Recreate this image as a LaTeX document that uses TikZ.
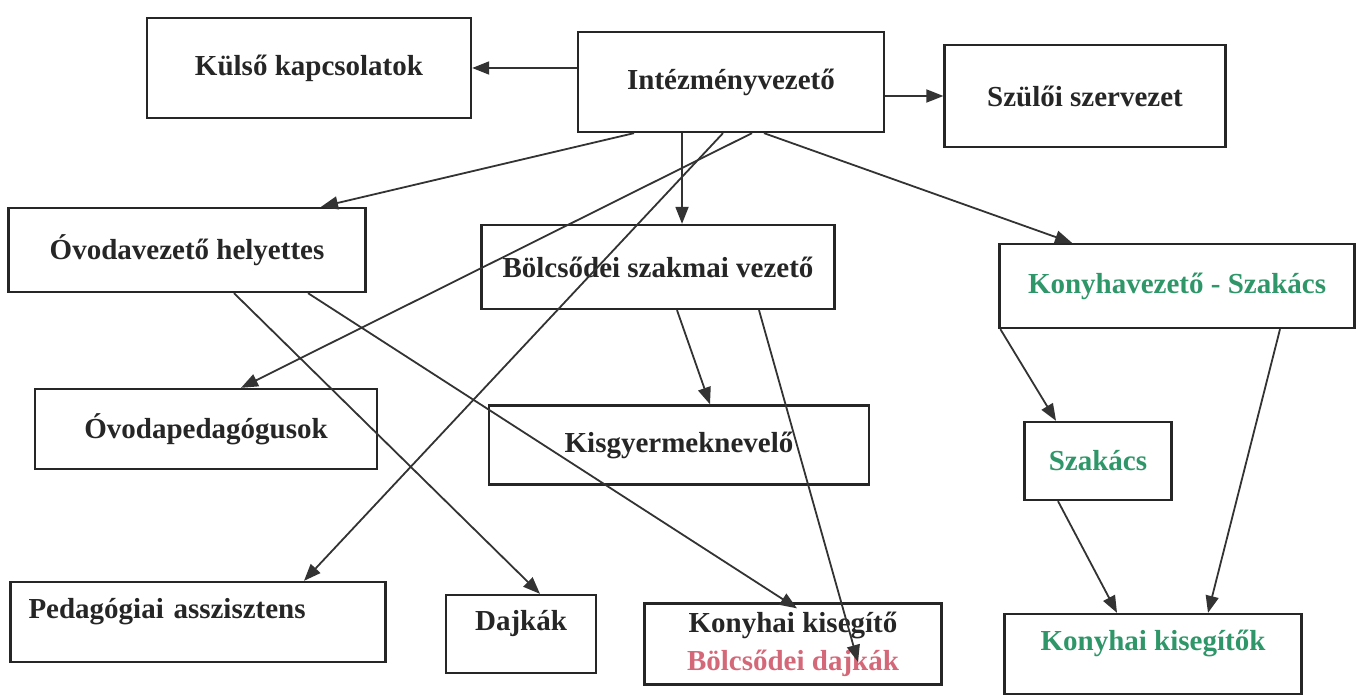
\documentclass[tikz,border=0pt]{standalone}
\usepackage{fontspec}
\setmainfont{Liberation Serif}
\usetikzlibrary{arrows.meta}
\definecolor{kitchen}{RGB}{46,150,104}
\definecolor{nursery}{RGB}{212,104,120}
\begin{document}
\begin{tikzpicture}[x=1pt,y=-1pt,
box/.style={draw=black!85,line width=2.3pt,text=black!85,font=\bfseries\fontsize{29}{36}\selectfont,inner sep=0pt},
upper/.style={text height=20pt,text depth=28pt},
arr/.style={draw=black!80,line width=1.8pt,-{Triangle[length=17pt,width=13pt]}},
green/.style={text=kitchen}]
\useasboundingbox (0,0) rectangle (1359,698);
% first row
\node[box,minimum width=324pt,minimum height=100pt] (kulso) at (309,68) {Külső kapcsolatok};
\node[box,minimum width=306pt,minimum height=100pt] (intez) at (731,82) {Intézményvezető};
\node[box,minimum width=281pt,minimum height=102pt] (szuloi) at (1085,96) {Szülői szervezet};
% second row
\node[box,minimum width=357pt,minimum height=84pt] (helyettes) at (187,250) {Óvodavezető helyettes};
\node[box,minimum width=353pt,minimum height=84pt] (bolcsvez) at (658,267) {Bölcsődei szakmai vezető};
\node[box,green,minimum width=355pt,minimum height=84pt] (konyhavez) at (1177,286) {Konyhavezető - Szakács};
% third row
\node[box,minimum width=342pt,minimum height=80pt] (ovodaped) at (206,429) {Óvodapedagógusok};
\node[box,minimum width=380pt,minimum height=79pt] (kisgyerm) at (679,445) {Kisgyermeknevelő};
\node[box,green,minimum width=147pt,minimum height=78pt] (szakacs) at (1098,461) {Szakács};
% bottom row
\node[box,upper,minimum width=375pt,minimum height=80pt,text width=339pt,align=left] (pedassz) at (198,622) {Pedagógiai asszisztens};
\node[box,upper,minimum width=150pt,minimum height=78pt] (dajkak) at (521,634) {Dajkák};
\node[box,minimum width=297pt,minimum height=81pt,align=center] (kisegito) at (793,644) {Konyhai kisegítő\\[2pt]\textcolor{nursery}{Bölcsődei dajkák}};
\node[box,green,upper,minimum width=297pt,minimum height=80pt] (kisegitok) at (1153,654) {Konyhai kisegítők};
% connectors
\draw[arr] (intez.west|-kulso.east) -- (kulso.east);
\draw[arr] (intez.east|-szuloi.west) -- (szuloi.west);
\draw[arr] ([xshift=-97pt]intez.south) -- ([xshift=134pt]helyettes.north);
\draw[arr] ([xshift=-49pt]intez.south) -- ([xshift=-49pt]intez.south|-bolcsvez.north);
\draw[arr] ([xshift=-8pt]intez.south) -- ([xshift=106pt]pedassz.north);
\draw[arr] ([xshift=21pt]intez.south) -- ([xshift=35pt]ovodaped.north);
\draw[arr] ([xshift=33pt]intez.south) -- ([xshift=-105pt]konyhavez.north);
\draw[arr] ([xshift=47pt]helyettes.south) -- ([xshift=19pt]dajkak.north);
\draw[arr] ([xshift=121pt]helyettes.south) -- ([xshift=4pt,yshift=-6pt]kisegito.north);
\draw[arr] ([xshift=19pt]bolcsvez.south) -- ([xshift=31pt]kisgyerm.north);
\draw[arr] ([xshift=101pt]bolcsvez.south) -- ([xshift=65pt,yshift=-18pt]kisegito.center);
\draw[arr] ([xshift=2pt]konyhavez.south west) -- ([xshift=-42pt]szakacs.north);
\draw[arr] ([xshift=103pt]konyhavez.south) -- ([xshift=55pt]kisegitok.north);
\draw[arr] ([xshift=-40pt]szakacs.south) -- ([xshift=-36pt]kisegitok.north);
\end{tikzpicture}
\end{document}
